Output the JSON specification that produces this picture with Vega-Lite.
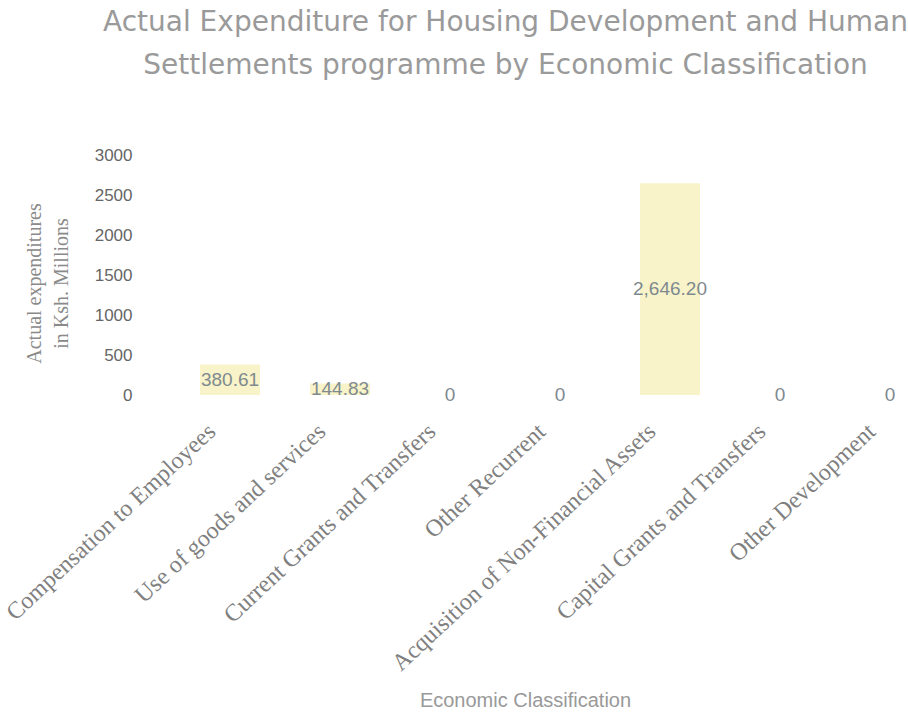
{
  "$schema": "https://vega.github.io/schema/vega-lite/v6.json",
  "autosize": "none",
  "width": 765,
  "height": 240,
  "padding": {"left": 140, "top": 155, "right": 3, "bottom": 323},
  "background": "white",
  "title": {
    "text": ["Actual Expenditure for Housing Development and Human", "Settlements programme by Economic Classification"],
    "fontSize": 28,
    "font": "DejaVu Sans",
    "fontWeight": "normal",
    "color": "#9a9a9a",
    "lineHeight": 43,
    "anchor": "middle",
    "frame": "group",
    "dx": -17,
    "offset": 66
  },
  "data": {
    "values": [
      {"category": "Compensation to Employees", "value": 380.61, "label": "380.61"},
      {"category": "Use of goods and services", "value": 144.83, "label": "144.83"},
      {"category": "Current Grants and Transfers", "value": 0, "label": "0"},
      {"category": "Other Recurrent", "value": 0, "label": "0"},
      {"category": "Acquisition of Non-Financial Assets", "value": 2646.2, "label": "2,646.20"},
      {"category": "Capital Grants and Transfers", "value": 0, "label": "0"},
      {"category": "Other Development", "value": 0, "label": "0"}
    ]
  },
  "encoding": {
    "x": {
      "field": "category",
      "type": "nominal",
      "sort": ["Compensation to Employees", "Use of goods and services", "Current Grants and Transfers", "Other Recurrent", "Acquisition of Non-Financial Assets", "Capital Grants and Transfers", "Other Development"],
      "scale": {
        "domain": ["Compensation to Employees", "Use of goods and services", "Current Grants and Transfers", "Other Recurrent", "Acquisition of Non-Financial Assets", "Capital Grants and Transfers", "Other Development"],
        "range": [60, 780], "paddingInner": 0.4545, "paddingOuter": 0
      },
      "axis": {
        "title": "Economic Classification",
        "titleFont": "Liberation Sans",
        "titleFontSize": 20,
        "titleFontWeight": "normal",
        "titleColor": "#999999",
        "titleY": 295,
        "titleX": 385,
        "labelAngle": -43,
        "labelFont": "Liberation Serif",
        "labelFontSize": 24,
        "labelColor": "#808080",
        "labelPadding": 24,
        "labelOffset": -26,
        "labelLimit": 400,
        "ticks": false,
        "domain": false
      }
    }
  },
  "layer": [
    {
      "transform": [{"filter": "datum.value > 0"}],
      "mark": {"type": "bar", "color": "#f8f3c8"},
      "encoding": {
        "y": {
          "field": "value",
          "type": "quantitative",
          "scale": {"domain": [0, 3000]},
          "axis": {
            "values": [0, 500, 1000, 1500, 2000, 2500, 3000],
            "format": "d",
            "labelOverlap": false,
            "title": ["Actual expenditures", "in Ksh. Millions"],
            "titleFont": "Liberation Serif",
            "titleFontSize": 20,
            "titleFontWeight": "normal",
            "titleColor": "#8a8a8a",
            "titleAngle": -90,
            "titleX": -106,
            "titleY": 128,
            "titleAlign": "center",
            "titleBaseline": "middle",
            "titleLineHeight": 27,
            "labelFont": "Liberation Sans",
            "labelFontSize": 17,
            "labelColor": "#666666",
            "labelPadding": 8,
            "grid": false,
            "ticks": false,
            "domain": false
          }
        }
      }
    },
    {
      "transform": [{"calculate": "datum.value / 2", "as": "mid"}],
      "mark": {"type": "text", "font": "Liberation Sans", "fontSize": 19, "color": "#7f8a90", "baseline": "middle"},
      "encoding": {
        "y": {"field": "mid", "type": "quantitative", "axis": null},
        "text": {"field": "label"}
      }
    }
  ],
  "resolve": {"axis": {"y": "independent"}},
  "config": {"view": {"stroke": null}}
}
